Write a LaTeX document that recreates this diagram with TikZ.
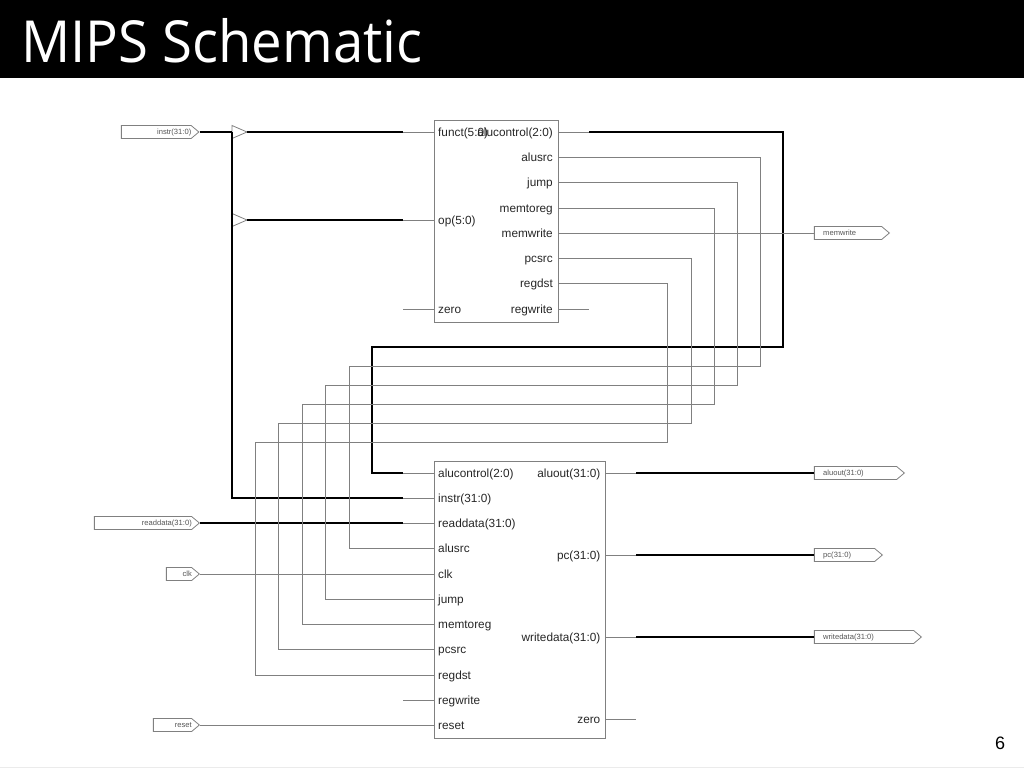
\documentclass[tikz,border=0pt]{standalone}
\usepackage{fontspec}
\usepackage{xcolor}
\usepackage{tikz}
\usetikzlibrary{shapes}
\setmainfont{Liberation Sans}
\newfontfamily\titlefont[FakeStretch=0.94]{Open Sans}
\definecolor{WireGray}{HTML}{808080}
\definecolor{PinText}{HTML}{555555}
\tikzset{
	thinwire/.style={draw=WireGray, line width=.8pt},
	buswire/.style={draw=black, line width=2pt},
	blockbox/.style={draw=WireGray, line width=1pt},
	portname/.style={inner sep=0pt, font=\fontsize{11.8}{13}\selectfont, text=black!85},
	pinshape/.style={signal, signal to=east, signal from=nowhere, signal pointer angle=80, draw=WireGray, line width=.8pt, inner sep=0pt, minimum height=13pt, anchor=east},
	pinname/.style={inner sep=0pt, font=\fontsize{7.6}{9}\selectfont, text=PinText}
}

\begin{document}
\begin{tikzpicture}[x=1pt, y=-1pt]
	\useasboundingbox (0,0) rectangle (1024,768);
	\fill[black] (0,0) rectangle (1024,78);
	\node[anchor=base west, inner sep=0pt, text=white, font=\titlefont\fontsize{58}{60}\selectfont] (title) at (21,63) {MIPS Schematic};
	\draw[black!8] (0,767.5) -- (1024,767.5);
	\node[inner sep=0pt, font=\fontsize{18}{20}\selectfont] (pagenum) at (1000,743) {6};

	% the two blocks
	\node[blockbox, minimum width=124pt, minimum height=202pt, inner sep=0pt, anchor=north west] (control) at (434,120) {};
	\node[blockbox, minimum width=171pt, minimum height=277pt, inner sep=0pt, anchor=north west] (datapath) at (434,461) {};

	% ports of the control block
	\foreach \pname/\plabel/\y in {funct/funct(5:0)/132, op/op(5:0)/220, zero/zero/309} {
		\node[portname, anchor=base west] (cn\pname) at (438,\y+4) {\plabel};
		\coordinate (cp\pname) at (434,\y);
		\coordinate (cs\pname) at (403,\y);
		\draw[thinwire] (cs\pname) -- (cp\pname);
	}
	\foreach \pname/\plabel/\y in {alucontrol/alucontrol(2:0)/132, alusrc/alusrc/157, jump/jump/182, memtoreg/memtoreg/208, memwrite/memwrite/233, pcsrc/pcsrc/258, regdst/regdst/283, regwrite/regwrite/309} {
		\node[portname, anchor=base east] (cn\pname) at (553,\y+4) {\plabel};
		\coordinate (cp\pname) at (558,\y);
	}

	% ports of the datapath block
	\foreach \pname/\plabel/\y in {alucontrol/alucontrol(2:0)/473, instr/instr(31:0)/498, readdata/readdata(31:0)/523, alusrc/alusrc/548, clk/clk/574, jump/jump/599, memtoreg/memtoreg/624, pcsrc/pcsrc/649, regdst/regdst/675, regwrite/regwrite/700, reset/reset/725} {
		\node[portname, anchor=base west] (dn\pname) at (438,\y+4) {\plabel};
		\coordinate (dp\pname) at (434,\y);
	}
	\foreach \pname/\plabel/\y in {aluout/aluout(31:0)/473, pc/pc(31:0)/555, writedata/writedata(31:0)/637, zero/zero/719} {
		\node[portname, anchor=base east] (dn\pname) at (600.5,\y+4) {\plabel};
		\coordinate (dp\pname) at (605,\y);
		\coordinate (ds\pname) at (636,\y);
		\draw[thinwire] (dp\pname) -- (ds\pname);
	}

	% input and output pins
	\foreach \pname/\plabel/\xa/\xb/\y in {instr/instr(31:0)/122/199.5/132, readdata/readdata(31:0)/95/200/523, clk/clk/167/200/574, reset/reset/154/200/725} {
		\pgfmathsetmacro{\pinw}{\xb-\xa}
		\node[pinshape, minimum width=\pinw pt] (pin\pname) at (\xb,\y) {};
		\node[pinname, anchor=base east] (pinl\pname) at (\xb-8,\y+2.6) {\plabel};
	}
	\foreach \pname/\plabel/\xb/\y in {memwrite/memwrite/890/233, aluout/aluout(31:0)/905/473, pc/pc(31:0)/883/555, writedata/writedata(31:0)/922/637} {
		\pgfmathsetmacro{\pinw}{\xb-815}
		\node[pinshape, minimum width=\pinw pt] (pin\pname) at (\xb,\y) {};
		\node[pinname, anchor=base west] (pinl\pname) at (823,\y+2.6) {\plabel};
	}

	% buffers
	\coordinate (bufa) at (232,132);
	\coordinate (bufb) at (232,220);
	\foreach \buf in {bufa, bufb} {
		\draw[thinwire] (\buf) ++(0,-6.5) coordinate (\buf top) -- ++(15,6.5) coordinate (\buf out) -- ++(-15,6.5) -- cycle;
	}

	% buses
	\coordinate (bendinstr) at (232,498);
	\draw[buswire] (pininstr.east) -- (bufa);
	\draw[buswire] (bufa) -- (bendinstr) -- (403,498);
	\draw[thinwire] (403,498) -- (dpinstr);
	\draw[buswire] (bufaout) -- (csfunct);
	\draw[buswire] (bufbout) -- (csop);
	\draw[buswire] (pinreaddata.east) -- (403,523);
	\draw[thinwire] (403,523) -- (dpreaddata);
	\draw[thinwire] (cpalucontrol) -- (589,132);
	\draw[buswire] (589,132) -| (783,347) -| (372,473) -- (403,473);
	\draw[thinwire] (403,473) -- (dpalucontrol);
	\foreach \pname in {aluout, pc, writedata} {
		\draw[buswire] (ds\pname) -- (pin\pname.west);
	}

	% control signals
	\foreach \pname/\xr/\ym/\xl in {alusrc/760/366/349, jump/737/385/325, memtoreg/714/404/302, pcsrc/691/423/278, regdst/667/442/255} {
		\draw[thinwire] (cp\pname) -| (\xr,\ym) -- (\xl,\ym) |- (dp\pname);
	}
	\draw[thinwire] (cpmemwrite) -- (pinmemwrite.west);
	\draw[thinwire] (cpregwrite) -- (589,309);
	\draw[thinwire] (403,700) -- (dpregwrite);
	\draw[thinwire] (pinclk.east) -- (dpclk);
	\draw[thinwire] (pinreset.east) -- (dpreset);
\end{tikzpicture}
\end{document}
